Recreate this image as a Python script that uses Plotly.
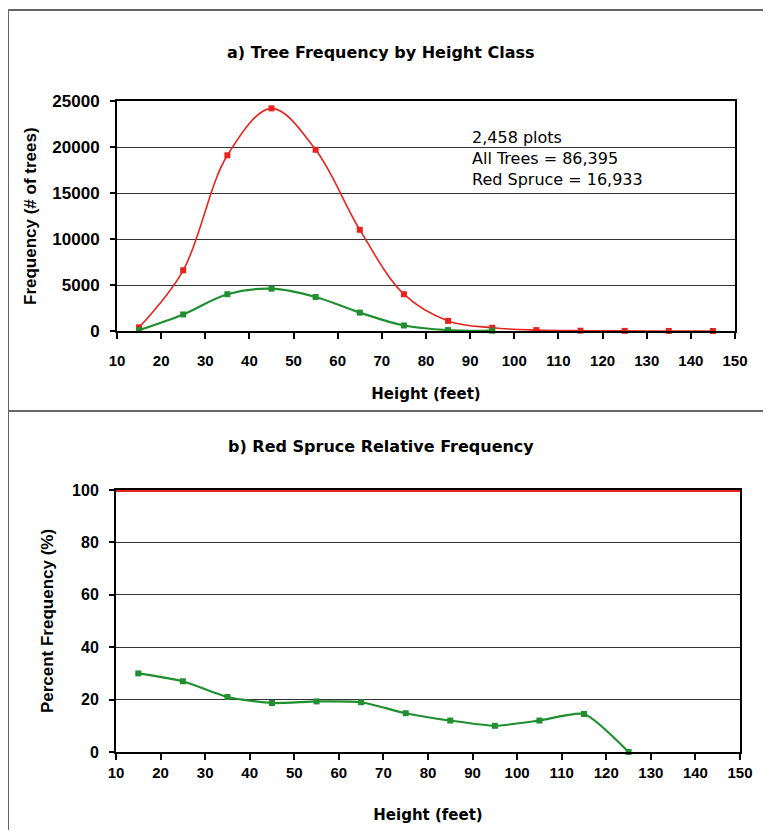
import plotly.graph_objects as go

# ---- data ----
heights = [15, 25, 35, 45, 55, 65, 75, 85, 95, 105, 115, 125, 135, 145]
all_trees = [400, 6600, 19100, 24200, 19700, 11000, 4000, 1100, 350, 100, 30, 10, 5, 2]
spruce_x = [15, 25, 35, 45, 55, 65, 75, 85, 95]
red_spruce = [100, 1800, 4000, 4600, 3700, 2000, 600, 100, 30]
rel_x = [15, 25, 35, 45, 55, 65, 75, 85, 95, 105, 115, 125]
rel_pct = [30, 27, 21, 18.7, 19.3, 19, 14.8, 12, 10, 12, 14.5, 0]
all_pct_x = [10, 150]
all_pct = [100, 100]
x_ticks = list(range(10, 151, 10))

# page body has an 8px margin; figure sized to fit the window exactly
OFF = 8
W, H = 771 - 2 * OFF, 838 - 2 * OFF
RED = "#e8231f"
GREEN = "#1f8f2f"
WIDE = "DejaVu Sans, Verdana, sans-serif"
ARIAL = "Liberation Sans, Arial, sans-serif"

def px(x):
    return (x - OFF) / W

def py(y):
    return 1 - (y - OFF) / H

fig = go.Figure()

fig.add_trace(go.Scatter(x=heights, y=all_trees, mode="lines+markers", line=dict(color=RED, width=1.6, shape="spline"),
                         marker=dict(symbol="square", size=6, color=RED), xaxis="x", yaxis="y", showlegend=False,
                         cliponaxis=False))
fig.add_trace(go.Scatter(x=spruce_x, y=red_spruce, mode="lines+markers", line=dict(color=GREEN, width=2.2, shape="spline"),
                         marker=dict(symbol="square", size=6, color=GREEN), xaxis="x", yaxis="y", showlegend=False,
                         cliponaxis=False))
fig.add_trace(go.Scatter(x=all_pct_x, y=all_pct, mode="lines", line=dict(color=RED, width=4),
                         xaxis="x2", yaxis="y2", showlegend=False, cliponaxis=False))
fig.add_trace(go.Scatter(x=rel_x, y=rel_pct, mode="lines+markers", line=dict(color=GREEN, width=2.2, shape="spline", smoothing=0.6),
                         marker=dict(symbol="square", size=6, color=GREEN), xaxis="x2", yaxis="y2", showlegend=False,
                         cliponaxis=False))

xtick_font = dict(family=ARIAL, size=15, color="black", weight="bold")
xtitle_font = dict(family=WIDE, size=15, color="black", weight="bold")
ytitle_font = dict(family=ARIAL, size=17, color="black", weight="bold")
common_x = dict(range=[10, 150], tickvals=x_ticks, ticks="outside", ticklen=6, tickwidth=1.5, tickcolor="black",
                showline=True, linecolor="black", linewidth=2, mirror=True, showgrid=False, zeroline=False,
                automargin=False, tickfont=xtick_font)
common_y = dict(ticks="outside", ticklen=5, tickwidth=1.5, tickcolor="black", showline=True, linecolor="black",
                linewidth=2, mirror=True, showgrid=True, gridcolor="#333333", gridwidth=1.3, zeroline=False,
                automargin=False, tickformat="d", ticklabelstandoff=7)

fig.update_layout(
    template="none",
    width=W, height=H, margin=dict(l=0, r=0, t=0, b=0, pad=0, autoexpand=False),
    paper_bgcolor="white", plot_bgcolor="white",
    font=dict(family=WIDE, color="black"),
    xaxis=dict(domain=[px(117), px(735)], anchor="y", ticklabelstandoff=9,
               title=dict(text="Height (feet)", font=xtitle_font, standoff=20), **common_x),
    yaxis=dict(domain=[py(331), py(101)], anchor="x", range=[0, 25000], dtick=5000,
               tickfont=dict(family=ARIAL, size=17, color="black", weight="bold"), **common_y),
    xaxis2=dict(domain=[px(116), px(740)], anchor="y2",
                title=dict(text="Height (feet)", font=xtitle_font, standoff=29), **common_x),
    yaxis2=dict(domain=[py(752), py(490)], anchor="x2", range=[0, 100], dtick=20,
                tickfont=dict(family=ARIAL, size=16, color="black", weight="bold"),
                title=dict(text="Percent Frequency (%)", font=ytitle_font, standoff=14), **common_y),
)

fig.add_annotation(text="<b>Frequency (# of trees)</b>", xref="paper", yref="paper", x=px(30), y=py(216),
                   xanchor="center", yanchor="middle", textangle=-90, showarrow=False, font=ytitle_font)
fig.add_annotation(text="<b>a) Tree Frequency by Height Class</b>", xref="paper", yref="paper", x=px(381), y=py(52),
                   yanchor="middle", showarrow=False, font=dict(family=WIDE, size=16, color="black"))
fig.add_annotation(text="<b>b) Red Spruce Relative Frequency</b>", xref="paper", yref="paper", x=px(381), y=py(447),
                   yanchor="middle", showarrow=False, font=dict(family=WIDE, size=16, color="black"))
fig.add_annotation(text="2,458 plots<br>All Trees = 86,395<br>Red Spruce = 16,933", xref="paper", yref="paper",
                   x=px(470), y=py(126), xanchor="left", yanchor="top", align="left", showarrow=False,
                   font=dict(family=WIDE, size=16, color="black"))

# outer frame lines
frame = dict(color="#666666", width=2)
fig.add_shape(type="line", xref="paper", yref="paper", x0=px(8), x1=px(8), y0=-0.05, y1=py(10), line=frame)
fig.add_shape(type="line", xref="paper", yref="paper", x0=px(8), x1=1.05, y0=py(10), y1=py(10), line=frame)
fig.add_shape(type="line", xref="paper", yref="paper", x0=px(8), x1=1.05, y0=py(411), y1=py(411), line=frame)

fig.write_html("out.html")
